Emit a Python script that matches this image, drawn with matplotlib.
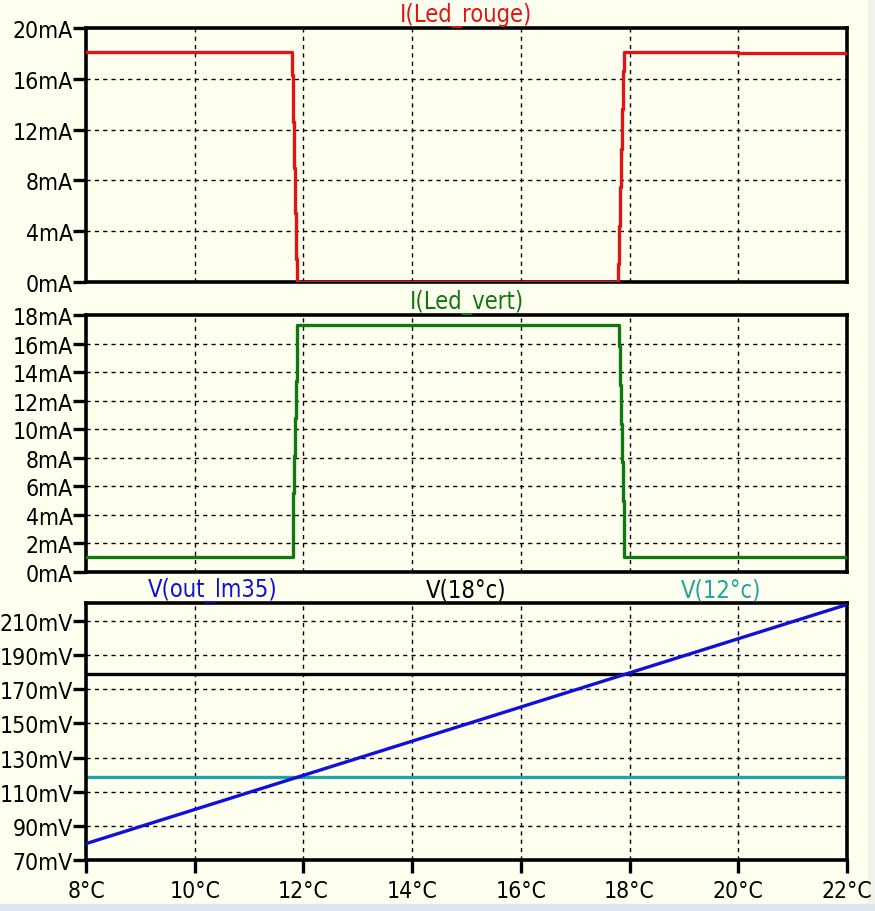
import matplotlib
matplotlib.use("Agg")
import matplotlib.pyplot as plt
from matplotlib.patches import Rectangle

# temperature sweep (°C) and LED currents (mA)
red_t = [8, 11.79, 11.815, 11.83, 11.845, 11.86, 11.88, 11.90,
         17.79, 17.81, 17.83, 17.85, 17.865, 17.88, 17.90, 20.0, 22]
red_i = [18.1, 16.3, 12.6, 9.0, 5.4, 1.8, 0.0, 0.0,
         1.4, 4.4, 7.5, 10.5, 13.6, 16.6, 18.1, 18.05, 18.05]

green_t = [8, 11.80, 11.815, 11.83, 11.845, 11.86, 11.875, 11.89,
           17.79, 17.81, 17.83, 17.85, 17.865, 17.88, 17.90, 22]
green_i = [1.05, 2.8, 5.5, 8.1, 10.8, 13.4, 16.3, 17.3,
           17.3, 15.8, 13.1, 10.4, 7.7, 5.0, 1.05, 1.05]

lm35_t = [8, 22]
lm35_mv = [79.6, 219.6]
ref18_mv = 179.2
ref12_mv = 118.4

x_ticks = [8, 10, 12, 14, 16, 18, 20, 22]
x_labels = ["8°C", "10°C", "12°C", "14°C", "16°C", "18°C", "20°C", "22°C"]
red_ticks = [0, 4, 8, 12, 16, 20]
green_ticks = [0, 2, 4, 6, 8, 10, 12, 14, 16, 18]
volt_ticks = [70, 90, 110, 130, 150, 170, 190, 210]

plt.rcParams['font.family'] = ['DejaVu Sans']
plt.rcParams['font.stretch'] = 'condensed'
bg = '#FFFFF0'
fs = 16.5   # tick labels
tfs = 17    # trace names

fig = plt.figure(figsize=(8.75, 9.12), dpi=100, facecolor=bg)
fig.add_artist(Rectangle((868 / 875, 0), 7 / 875, 1, transform=fig.transFigure,
                         color='#F2F2EA', zorder=0))
fig.add_artist(Rectangle((0, 0), 1, 7 / 912, transform=fig.transFigure,
                         color='#DCE6F0', zorder=0))

left, width = 0.0983, 0.8697
ax1 = fig.add_axes([left, 0.6897, width, 0.2785])
ax2 = fig.add_axes([left, 0.3717, width, 0.2818])
ax3 = fig.add_axes([left, 0.0559, width, 0.2818])

dash = (0, (3, 3))
for ax in (ax1, ax2, ax3):
    ax.set_facecolor(bg)
    ax.set_xlim(8, 22)
    ax.set_xticks(x_ticks)
    for s in ax.spines.values():
        s.set_linewidth(2.6)
        s.set_color('black')
    ax.tick_params(axis='y', length=9.5, width=2.4, pad=0, labelsize=fs)
    ax.tick_params(axis='x', length=9, width=2.4, pad=5, labelsize=fs)
    for xv in x_ticks[1:-1]:
        ax.axvline(xv, color='black', lw=1, ls=dash, zorder=1)

# panel 1 - red LED current
ax1.step(red_t, red_i, where='post', color='#E01414', lw=2.4, zorder=3)
ax1.set_ylim(0, 20)
ax1.set_yticks(red_ticks)
ax1.set_yticklabels([f"{v}mA" for v in red_ticks])
for yv in red_ticks[1:-1]:
    ax1.axhline(yv, color='black', lw=1, ls=dash, zorder=1)
ax1.tick_params(axis='x', bottom=False, labelbottom=False)
ax1.text(0.5, 1.005, "I(Led_rouge)", color='#E01414', fontsize=tfs,
         ha='center', va='bottom', transform=ax1.transAxes)

# panel 2 - green LED current
ax2.step(green_t, green_i, where='post', color='#107810', lw=2.4, zorder=3)
ax2.set_ylim(0, 18)
ax2.set_yticks(green_ticks)
ax2.set_yticklabels([f"{v}mA" for v in green_ticks])
for yv in green_ticks[1:-1]:
    ax2.axhline(yv, color='black', lw=1, ls=dash, zorder=1)
ax2.tick_params(axis='x', bottom=False, labelbottom=False)
ax2.text(0.5, 1.005, "I(Led_vert)", color='#107810', fontsize=tfs,
         ha='center', va='bottom', transform=ax2.transAxes)

# panel 3 - voltages
ax3.plot(lm35_t, lm35_mv, color='#1010D8', lw=2.4, zorder=3)
ax3.axhline(ref18_mv, color='black', lw=2.4, zorder=2)
ax3.axhline(ref12_mv, color='#20A4A4', lw=2.4, zorder=2)
ax3.set_ylim(70, 220.5)
ax3.set_yticks(volt_ticks)
ax3.set_yticklabels([f"{v}mV" for v in volt_ticks])
for yv in volt_ticks[1:]:
    ax3.axhline(yv, color='black', lw=1, ls=dash, zorder=1)
ax3.set_xticklabels(x_labels)
ax3.text(0.166, 1.005, "V(out_lm35)", color='#1010D8', fontsize=tfs,
         ha='center', va='bottom', transform=ax3.transAxes)
ax3.text(0.5, 1.005, "V(18°c)", color='black', fontsize=tfs,
         ha='center', va='bottom', transform=ax3.transAxes)
ax3.text(0.834, 1.005, "V(12°c)", color='#20A4A4', fontsize=tfs,
         ha='center', va='bottom', transform=ax3.transAxes)

fig.savefig("out.png", dpi=100, facecolor=bg)
